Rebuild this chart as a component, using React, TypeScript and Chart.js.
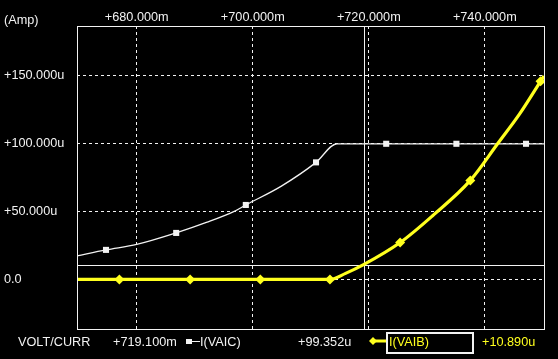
import { useEffect, useRef } from "react";
import { Chart, registerables } from "chart.js";

Chart.register(...registerables);

// Axis ticks (x in milli-volts "m", y in micro-amps "u")
const xTicks = [680, 700, 720, 740];
const yTicks = [0, 50, 100, 150];
const xMin = 669.7;
const xMax = 750.2;
const yMin = -36.5;
const yMax = 186.8;

// I(VAIC) – white trace
const vaicX = [669.7, 674.7, 680, 686.8, 692, 696.7, 698.8, 705, 710.9, 714.5, 723.0, 735.1, 747.1, 750.2];
const vaicY = [17.4, 21.8, 25.8, 34.3, 42, 50, 54.9, 69, 86.3, 100, 100, 100, 100, 100];
const vaicMarked = [674.7, 686.8, 698.8, 710.9, 723.0, 735.1, 747.1];

// I(VAIB) – yellow trace
const vaibX = [669.7, 677.0, 689.2, 701.3, 713.3, 716.0, 719.1, 725.4, 731.0, 737.5, 742.2, 746.0, 749.6, 750.2];
const vaibY = [0, 0, 0, 0, 0, 4.5, 10.9, 27.2, 47, 73.0, 100, 122, 146, 150];
const vaibMarked = [677.0, 689.2, 701.3, 713.3, 725.4, 737.5, 749.6];

// Cursor readout
const cursorX = 719.1;
const cursorY = 10.89;
const cursorXLabel = "+719.100m";
const vaicReadout = "+99.352u";
const vaibReadout = "+10.890u";

const WHITE = "#f2f2f2";
const YELLOW = "#ffff1e";
const FONT = "Liberation Sans, Arial, sans-serif";
const FSIZE = 12.7;

export default function App() {
  const ref = useRef<HTMLCanvasElement | null>(null);

  useEffect(() => {
    document.body.style.margin = "0";
    document.body.style.background = "#000";
    const canvas = ref.current;
    if (!canvas) return;

    const overlay = {
      id: "overlay",
      beforeDatasetsDraw(chart: any) {
        const { ctx, chartArea: a, scales } = chart;
        const px = scales.x.getPixelForValue(cursorX);
        const py = scales.y.getPixelForValue(cursorY);
        ctx.save();
        ctx.strokeStyle = WHITE;
        ctx.lineWidth = 1;
        ctx.beginPath();
        ctx.moveTo(Math.round(px) + 0.5, a.top);
        ctx.lineTo(Math.round(px) + 0.5, a.bottom);
        ctx.moveTo(a.left, Math.round(py) + 0.5);
        ctx.lineTo(a.right, Math.round(py) + 0.5);
        ctx.stroke();
        ctx.restore();
      },
      afterDraw(chart: any) {
        const { ctx, chartArea: a } = chart;
        ctx.save();
        ctx.strokeStyle = WHITE;
        ctx.lineWidth = 1;
        ctx.strokeRect(Math.round(a.left) + 0.5, Math.round(a.top) + 0.5, Math.round(a.right - a.left), Math.round(a.bottom - a.top));

        ctx.font = `${FSIZE}px ${FONT}`;
        ctx.textBaseline = "middle";
        ctx.textAlign = "left";
        ctx.fillStyle = WHITE;
        ctx.fillText("(Amp)", 4, 20);

        const ly = 342;
        ctx.fillText("VOLT/CURR", 18, ly);
        ctx.fillText(cursorXLabel, 113, ly);
        // white legend icon
        ctx.fillRect(186, ly - 3, 6, 5);
        ctx.beginPath();
        ctx.moveTo(191, ly - 0.5);
        ctx.lineTo(200, ly - 0.5);
        ctx.stroke();
        ctx.fillText("I(VAIC)", 200, ly);
        ctx.fillText(vaicReadout, 298, ly);

        // yellow legend icon
        ctx.fillStyle = YELLOW;
        ctx.strokeStyle = YELLOW;
        ctx.beginPath();
        ctx.moveTo(373, ly - 5);
        ctx.lineTo(377, ly - 1);
        ctx.lineTo(373, ly + 3);
        ctx.lineTo(369, ly - 1);
        ctx.closePath();
        ctx.fill();
        ctx.lineWidth = 3;
        ctx.beginPath();
        ctx.moveTo(373, ly - 1);
        ctx.lineTo(388, ly - 1);
        ctx.stroke();
        ctx.fillText("I(VAIB)", 389, ly);
        ctx.fillText(vaibReadout, 482, ly);
        ctx.strokeStyle = WHITE;
        ctx.lineWidth = 2;
        ctx.strokeRect(387, 333, 86, 20);
        ctx.restore();
      },
    };

    const chart = new Chart(canvas, {
      type: "line",
      data: {
        datasets: [
          {
            label: "I(VAIB)",
            data: vaibX.map((x, i) => ({ x, y: vaibY[i] })),
            borderColor: YELLOW,
            backgroundColor: YELLOW,
            borderWidth: 3.2,
            pointStyle: "rectRot",
            pointRadius: vaibX.map((x) => (vaibMarked.includes(x) ? 5 : 0)),
            pointBorderWidth: 0,
            cubicInterpolationMode: "monotone",
            clip: 0,
            order: 1,
          },
          {
            label: "I(VAIC)",
            data: vaicX.map((x, i) => ({ x, y: vaicY[i] })),
            borderColor: WHITE,
            backgroundColor: WHITE,
            borderWidth: 1.3,
            pointStyle: "rect",
            pointRadius: vaicX.map((x) => (vaicMarked.includes(x) ? 4.3 : 0)),
            pointBorderWidth: 0,
            cubicInterpolationMode: "monotone",
            order: 2,
          },
        ],
      },
      options: {
        animation: false,
        responsive: false,
        maintainAspectRatio: false,
        layout: { padding: { left: 4, right: 14, top: 0, bottom: 30 } },
        plugins: { legend: { display: false }, tooltip: { enabled: false } },
        scales: {
          x: {
            type: "linear",
            position: "top",
            min: xMin,
            max: xMax,
            afterBuildTicks: (s: any) => {
              s.ticks = xTicks.map((v) => ({ value: v }));
            },
            afterFit: (s: any) => {
              s.height = 26;
            },
            ticks: {
              color: WHITE,
              font: { family: FONT, size: FSIZE },
              padding: 1,
              maxRotation: 0,
              autoSkip: false,
              callback: (v: any) => "+" + Number(v).toFixed(3) + "m",
            },
            grid: { color: WHITE, drawTicks: false, lineWidth: 1 },
            border: { display: false, dash: [3, 3] },
          },
          y: {
            type: "linear",
            min: yMin,
            max: yMax,
            afterBuildTicks: (s: any) => {
              s.ticks = yTicks.map((v) => ({ value: v }));
            },
            afterFit: (s: any) => {
              s.width = 73;
            },
            ticks: {
              color: WHITE,
              font: { family: FONT, size: FSIZE },
              crossAlign: "far",
              autoSkip: false,
              callback: (v: any) => (Number(v) === 0 ? "0.0" : "+" + Number(v).toFixed(3) + "u"),
            },
            grid: { color: WHITE, drawTicks: false, lineWidth: 1 },
            border: { display: false, dash: [3, 3] },
          },
        },
      },
      plugins: [overlay],
    } as any);

    return () => chart.destroy();
  }, []);

  return (
    <div style={{ position: "fixed", left: 0, top: 0, width: 558, height: 359, background: "#000" }}>
      <canvas ref={ref} width={558} height={359} style={{ display: "block", width: 558, height: 359 }} />
    </div>
  );
}
